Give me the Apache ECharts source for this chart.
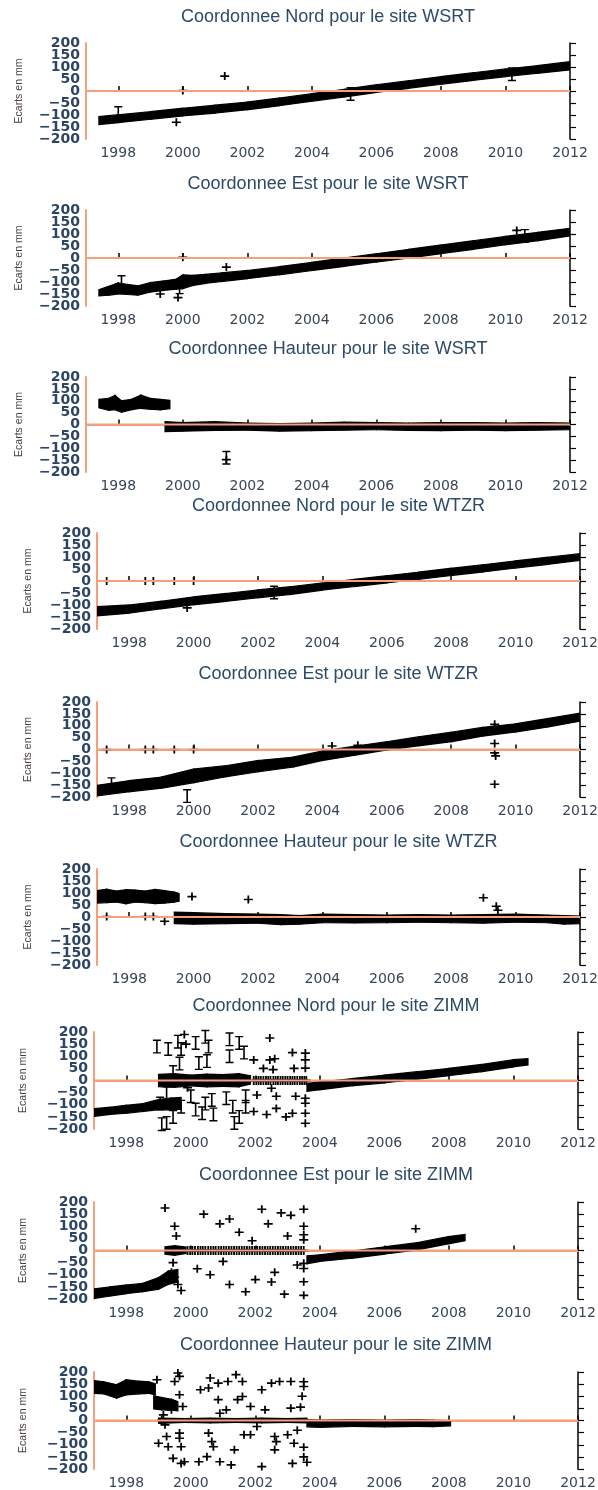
<!DOCTYPE html>
<html>
<head>
<meta charset="utf-8">
<script src="https://cdn.jsdelivr.net/npm/echarts@6/dist/echarts.min.js"></script>
<style>
html, body { margin: 0; padding: 0; background: #fff; }
#chart { width: 598px; height: 1490px; }
</style>
</head>
<body>
<div id="chart"></div>
<script>
// ticks
var YEAR_TICKS = [1998, 2000, 2002, 2004, 2006, 2008, 2010, 2012]
var Y_LABELS_EVEN = [-200, -100, 0, 100, 200]
var Y_LABELS_ODD = [-150, -50, 50, 150]
var ZERO_X = [1997, 2012]

// --- WSRT Nord
var wsrtNordX = [1997.4, 1998.0, 1999.0, 2000.0, 2001.0, 2002.0, 2003.0, 2004.0, 2005.0, 2006.0, 2007.0, 2008.0, 2009.0, 2010.0, 2011.0, 2012.0]
var wsrtNordLo = [-140, -132, -118, -104, -92, -78, -61, -43, -25, -6, 11, 28, 44, 60, 74, 88]
var wsrtNordHi = [-106, -99, -86, -72, -59, -46, -29, -11, 7, 26, 43, 60, 76, 92, 106, 122]
var wsrtNordPlusX = [1999.8, 2000.0, 2001.3]
var wsrtNordPlusY = [-130, 2, 62]
var wsrtNordBarX = [1998.0, 2005.2, 2010.2]
var wsrtNordBarY = [-92, -12, 70]

// --- WSRT Est
var wsrtEstX = [1997.4, 1997.7, 1998.0, 1998.3, 1998.6, 1999.0, 1999.4, 1999.8, 2000.0, 2000.3, 2000.7, 2001.2, 2002.0, 2003.0, 2004.0, 2005.0, 2006.0, 2007.0, 2008.0, 2009.0, 2010.0, 2011.0, 2012.0]
var wsrtEstLo = [-158, -155, -150, -152, -155, -142, -135, -130, -128, -115, -106, -98, -86, -70, -52, -35, -17, 0, 18, 36, 55, 72, 92]
var wsrtEstHi = [-132, -118, -104, -110, -116, -102, -96, -88, -70, -72, -68, -62, -52, -36, -18, 0, 18, 36, 54, 72, 90, 107, 124]
var wsrtEstPlusX = [1999.3, 1999.85, 2000.0, 2001.35, 2010.35]
var wsrtEstPlusY = [-150, -165, 3, -38, 115]
var wsrtEstBarX = [1998.1, 1999.9, 2010.6]
var wsrtEstBarY = [-100, -122, 92]

// --- WSRT Hauteur
var wsrtHautAX = [1997.4, 1997.7, 1997.9, 1998.1, 1998.4, 1998.7, 1999.0, 1999.3, 1999.6]
var wsrtHautALo = [70, 60, 62, 52, 62, 68, 64, 62, 66]
var wsrtHautAHi = [106, 110, 122, 100, 106, 124, 110, 106, 102]
var wsrtHautBX = [1999.45, 2000.0, 2001.0, 2002.0, 2003.0, 2004.0, 2005.0, 2006.0, 2007.0, 2008.0, 2009.0, 2010.0, 2011.0, 2012.0]
var wsrtHautBLo = [-30, -28, -25, -24, -28, -26, -24, -22, -25, -26, -24, -26, -24, -22]
var wsrtHautBHi = [12, 8, 12, 6, 4, 6, 10, 8, 6, 8, 8, 6, 8, 6]
var wsrtHautPlusX = [2001.35]
var wsrtHautPlusY = [-148]
var wsrtHautBarX = [2001.35]
var wsrtHautBarY = [-140]

// --- WTZR Nord
var wtzrNordX = [1997.0, 1998.0, 1999.0, 2000.0, 2001.0, 2002.0, 2003.0, 2004.0, 2005.0, 2006.0, 2007.0, 2008.0, 2009.0, 2010.0, 2011.0, 2012.0]
var wtzrNordLo = [-145, -134, -116, -99, -85, -70, -56, -38, -23, -8, 7, 23, 38, 54, 69, 86]
var wtzrNordHi = [-107, -100, -84, -66, -52, -37, -24, -8, 7, 22, 37, 53, 68, 84, 99, 114]
var wtzrNordPlusX = [1997.3, 1998.5, 1998.75, 1999.4, 2000.0, 1999.8]
var wtzrNordPlusY = [0, 0, 0, 0, 0, -112]
var wtzrNordBarX = [2002.5]
var wtzrNordBarY = [-48]

// --- WTZR Est
var wtzrEstX = [1997.0, 1998.0, 1999.0, 2000.0, 2001.0, 2002.0, 2003.1, 2004.0, 2005.0, 2006.0, 2007.0, 2008.0, 2009.0, 2010.0, 2011.0, 2012.0]
var wtzrEstLo = [-195, -178, -163, -140, -115, -94, -74, -46, -24, -2, 16, 33, 57, 74, 95, 119]
var wtzrEstHi = [-151, -131, -116, -82, -68, -46, -32, -6, 14, 33, 54, 73, 94, 108, 131, 153]
var wtzrEstPlusX = [1997.3, 1998.5, 1998.75, 1999.4, 2000.0, 2004.3, 2005.1, 2009.35, 2009.35, 2009.35, 2009.38, 2009.35]
var wtzrEstPlusY = [0, 0, 0, 0, 0, 15, 18, 106, 25, -14, -27, -146]
var wtzrEstBarX = [1999.8, 1997.45]
var wtzrEstBarY = [-196, -146]

// --- WTZR Hauteur
var wtzrHautAX = [1997.0, 1997.3, 1997.6, 1997.9, 1998.2, 1998.5, 1998.8, 1999.1, 1999.4, 1999.55]
var wtzrHautALo = [58, 60, 62, 55, 62, 60, 56, 58, 62, 66]
var wtzrHautAHi = [110, 116, 108, 114, 112, 108, 115, 110, 104, 98]
var wtzrHautBX = [1999.4, 2000.0, 2001.0, 2002.0, 2002.7, 2003.3, 2004.0, 2005.0, 2006.0, 2007.0, 2008.0, 2009.0, 2010.0, 2011.0, 2011.5, 2012.0]
var wtzrHautBLo = [-28, -30, -28, -26, -32, -30, -24, -25, -24, -22, -24, -26, -22, -24, -30, -28]
var wtzrHautBHi = [20, 18, 14, 12, 10, 6, 12, 10, 8, 10, 8, 10, 12, 8, 6, 4]
var wtzrHautPlusX = [1997.3, 1998.5, 1998.75, 1999.1, 1999.95, 2001.7, 2009.0, 2009.4, 2009.45]
var wtzrHautPlusY = [2, 2, 2, -18, 85, 73, 80, 45, 28]

// --- ZIMM Nord
var zimmNordAX = [1997.0, 1997.5, 1998.0, 1998.5, 1999.0, 1999.4, 1999.7]
var zimmNordALo = [-148, -140, -135, -128, -120, -122, -118]
var zimmNordAHi = [-116, -110, -102, -96, -78, -72, -70]
var zimmNordBX = [1999.0, 1999.5, 2000.0, 2000.5, 2001.0, 2001.5, 2001.85]
var zimmNordBLo = [-25, -28, -22, -26, -24, -26, -15]
var zimmNordBHi = [25, 28, 22, 26, 24, 28, 20]
var zimmNordCX = [2003.6, 2004.0, 2005.0, 2006.0, 2007.0, 2008.0, 2009.0, 2010.0, 2010.45]
var zimmNordCLo = [-45, -38, -22, -10, 5, 20, 36, 56, 64]
var zimmNordCHi = [-12, -6, 8, 22, 36, 50, 66, 86, 90]
var zimmNordRowX = [2001.95, 2002.03, 2002.1, 2002.17, 2002.25, 2002.33, 2002.4, 2002.47, 2002.56, 2002.63, 2002.7, 2002.78, 2002.85, 2002.93, 2003.0, 2003.08, 2003.15, 2003.22, 2003.3, 2003.38, 2003.45, 2003.52, 2003.58]
var zimmNordPlusX = [1999.8, 1999.85, 2001.95, 2002.25, 2002.45, 2002.55, 2002.45, 2003.15, 2003.2, 1999.9, 2001.95, 2002.05, 2002.35, 2002.5, 2002.65, 2002.65, 2002.95, 2003.15, 2003.25, 2003.55, 2003.55, 2003.55, 2003.55, 2003.55, 2003.55, 2003.55, 2002.6]
var zimmNordPlusY = [190, 150, 85, 50, 175, 45, 85, 115, 50, -30, -128, -60, -140, -32, -115, -65, -150, -135, -65, 113, 85, 51, -73, -94, -135, -176, 90]
var zimmNordBarX = [1998.95, 1999.1, 1999.3, 1999.6, 1999.7, 1999.65, 1999.45, 2000.15, 2000.25, 2000.45, 2000.55, 2000.5, 2001.2, 2001.2, 2001.5, 2001.65, 1999.05, 1999.25, 1999.25, 1999.45, 1999.7, 2000.0, 2000.15, 2000.35, 2000.45, 2000.7, 2000.65, 2001.1, 2001.3, 2001.35, 2001.5, 2001.7, 2001.7]
var zimmNordBarY = [140, -180, 130, 160, 130, 70, 35, 155, 72, 180, 140, 80, 170, 100, 155, 115, -95, -52, -175, -150, -108, -65, -120, -135, -95, -140, -80, -73, -108, -175, -150, -65, -108]

// --- ZIMM Est
var zimmEstAX = [1997.0, 1997.5, 1998.0, 1998.5, 1999.0, 1999.3, 1999.6]
var zimmEstALo = [-198, -188, -178, -170, -160, -140, -130]
var zimmEstAHi = [-158, -150, -142, -136, -112, -85, -78]
var zimmEstBX = [1999.2, 1999.5, 1999.85]
var zimmEstBLo = [-15, -20, -12]
var zimmEstBHi = [15, 20, 14]
var zimmEstCX = [2003.6, 2004.0, 2005.0, 2006.0, 2007.0, 2008.0, 2008.5]
var zimmEstCLo = [-55, -45, -32, -15, 2, 28, 40]
var zimmEstCHi = [-22, -18, -2, 15, 32, 58, 66]
var zimmEstRowX = [1999.9, 1999.98, 2000.05, 2000.13, 2000.22, 2000.3, 2000.37, 2000.45, 2000.54, 2000.62, 2000.7, 2000.77, 2000.86, 2000.94, 2001.02, 2001.1, 2001.18, 2001.26, 2001.34, 2001.42, 2001.5, 2001.58, 2001.66, 2001.74, 2001.82, 2001.9, 2001.98, 2002.06, 2002.14, 2002.22, 2002.3, 2002.38, 2002.46, 2002.54, 2002.62, 2002.7, 2002.78, 2002.86, 2002.94, 2003.02, 2003.1, 2003.18, 2003.26, 2003.34, 2003.42, 2003.5]
var zimmEstPlusX = [1999.2, 1999.5, 1999.55, 1999.45, 1999.5, 1999.6, 1999.7, 1999.4, 2000.2, 2000.4, 2000.6, 2000.9, 2001.0, 2001.2, 2001.2, 2001.5, 2001.7, 2001.9, 2002.0, 2002.2, 2002.4, 2002.6, 2002.8, 2002.9, 2003.1, 2003.3, 2003.0, 2002.5, 2003.5, 2003.5, 2003.5, 2003.5, 2003.5, 2003.5, 2003.5, 2003.5, 2006.97]
var zimmEstPlusY = [175, 100, 60, -50, -110, -140, -165, -90, -75, 150, -100, 110, -45, 130, -140, 75, -170, 40, -120, 170, 110, -90, 155, -180, 145, -60, 60, -130, 170, 100, 65, 44, -53, -74, -129, -185, 90]

// --- ZIMM Hauteur
var zimmHautAX = [1997.0, 1997.3, 1997.7, 1998.0, 1998.4, 1998.7, 1998.9]
var zimmHautALo = [112, 110, 92, 106, 110, 112, 105]
var zimmHautAHi = [165, 160, 148, 168, 162, 160, 152]
var zimmHautA2X = [1998.85, 1999.1, 1999.4, 1999.6]
var zimmHautA2Lo = [48, 44, 42, 40]
var zimmHautA2Hi = [102, 95, 88, 78]
var zimmHautBX = [1999.0, 1999.8, 2000.6, 2001.4, 2002.2, 2003.0, 2003.6]
var zimmHautBLo = [-12, -8, -10, -8, -10, -8, -10]
var zimmHautBHi = [10, 8, 10, 8, 10, 8, 10]
var zimmHautCX = [2003.6, 2004.0, 2005.0, 2006.0, 2007.0, 2007.5, 2008.05]
var zimmHautCLo = [-26, -28, -24, -26, -24, -25, -22]
var zimmHautCHi = [4, 2, 4, 2, 4, 2, 0]
var zimmHautPlusX = [1998.95, 1999.0, 1999.1, 1999.2, 1999.15, 1999.25, 1999.3, 1999.4, 1999.45, 1999.5, 1999.6, 1999.65, 1999.65, 1999.7, 1999.65, 1999.75, 1999.7, 1999.8, 1999.65, 2000.25, 2000.3, 2000.5, 2000.55, 2000.6, 2000.65, 2000.55, 2000.7, 2000.85, 2000.85, 2000.9, 2000.9, 2001.15, 2001.1, 2001.25, 2001.35, 2001.4, 2001.45, 2001.6, 2001.65, 2001.6, 2001.85, 2001.85, 2002.05, 2002.2, 2002.2, 2002.3, 2002.5, 2002.6, 2002.6, 2002.65, 2002.75, 2003.0, 2003.1, 2003.1, 2003.15, 2003.2, 2003.3, 2003.5, 2003.5, 2003.45, 2003.5, 2003.5, 2003.6, 2003.4]
var zimmHautPlusY = [168, -94, 3, -18, 23, -66, -108, 44, -156, 161, 196, 182, 106, -108, -52, 58, -177, -170, -73, -170, 127, -149, 134, 175, -87, -52, -108, 154, 86, -170, 30, 161, 44, -183, -121, 189, 86, 161, -59, 99, 58, -59, -25, 127, -190, 44, 154, -66, -121, -87, 161, -59, 161, 51, -177, -94, -40, 160, 140, 100, -110, -150, -172, 55]

var SALMON = '#f4a07f'
var PLUS = 'path://M0,4H4V0H6V4H10V6H6V10H4V6H0Z'
var IBAR = 'path://M0,0H10V2H6V18H10V20H0V18H4V2H0Z'

var panels = [
  { title: 'Coordonnee Nord pour le site WSRT', left: 86, top: 43, width: 484, height: 96, titleY: 18, nameGap: 61,
    bands: [[wsrtNordX, wsrtNordLo, wsrtNordHi]], plus: [wsrtNordPlusX, wsrtNordPlusY], bars: [wsrtNordBarX, wsrtNordBarY], row: [] },
  { title: 'Coordonnee Est pour le site WSRT', left: 86, top: 210, width: 484, height: 96, titleY: 185, nameGap: 61,
    bands: [[wsrtEstX, wsrtEstLo, wsrtEstHi]], plus: [wsrtEstPlusX, wsrtEstPlusY], bars: [wsrtEstBarX, wsrtEstBarY], row: [] },
  { title: 'Coordonnee Hauteur pour le site WSRT', left: 86, top: 377, width: 484, height: 95, titleY: 350, nameGap: 61,
    bands: [[wsrtHautAX, wsrtHautALo, wsrtHautAHi], [wsrtHautBX, wsrtHautBLo, wsrtHautBHi]], plus: [wsrtHautPlusX, wsrtHautPlusY], bars: [wsrtHautBarX, wsrtHautBarY], row: [] },
  { title: 'Coordonnee Nord pour le site WTZR', left: 97, top: 533, width: 483, height: 96, titleY: 507, nameGap: 63,
    bands: [[wtzrNordX, wtzrNordLo, wtzrNordHi]], plus: [wtzrNordPlusX, wtzrNordPlusY], bars: [wtzrNordBarX, wtzrNordBarY], row: [] },
  { title: 'Coordonnee Est pour le site WTZR', left: 97, top: 702, width: 483, height: 95, titleY: 675, nameGap: 63,
    bands: [[wtzrEstX, wtzrEstLo, wtzrEstHi]], plus: [wtzrEstPlusX, wtzrEstPlusY], bars: [wtzrEstBarX, wtzrEstBarY], row: [] },
  { title: 'Coordonnee Hauteur pour le site WTZR', left: 97, top: 869, width: 483, height: 96, titleY: 843, nameGap: 63,
    bands: [[wtzrHautAX, wtzrHautALo, wtzrHautAHi], [wtzrHautBX, wtzrHautBLo, wtzrHautBHi]], plus: [wtzrHautPlusX, wtzrHautPlusY], bars: [[], []], row: [] },
  { title: 'Coordonnee Nord pour le site ZIMM', left: 94, top: 1032, width: 484, height: 97, titleY: 1007, nameGap: 65,
    bands: [[zimmNordAX, zimmNordALo, zimmNordAHi], [zimmNordBX, zimmNordBLo, zimmNordBHi], [zimmNordCX, zimmNordCLo, zimmNordCHi]],
    plus: [zimmNordPlusX, zimmNordPlusY], bars: [zimmNordBarX, zimmNordBarY], row: zimmNordRowX },
  { title: 'Coordonnee Est pour le site ZIMM', left: 94, top: 1202, width: 484, height: 97, titleY: 1176, nameGap: 65,
    bands: [[zimmEstAX, zimmEstALo, zimmEstAHi], [zimmEstBX, zimmEstBLo, zimmEstBHi], [zimmEstCX, zimmEstCLo, zimmEstCHi]],
    plus: [zimmEstPlusX, zimmEstPlusY], bars: [[], []], row: zimmEstRowX },
  { title: 'Coordonnee Hauteur pour le site ZIMM', left: 94, top: 1372, width: 484, height: 97, titleY: 1346, nameGap: 65,
    bands: [[zimmHautAX, zimmHautALo, zimmHautAHi], [zimmHautA2X, zimmHautA2Lo, zimmHautA2Hi], [zimmHautBX, zimmHautBLo, zimmHautBHi], [zimmHautCX, zimmHautCLo, zimmHautCHi]],
    plus: [zimmHautPlusX, zimmHautPlusY], bars: [[], []], row: [] }
]

function bandItem (params, api) {
  var p = [
    api.coord([api.value(0), api.value(1)]),
    api.coord([api.value(0), api.value(2)]),
    api.coord([api.value(3), api.value(5)]),
    api.coord([api.value(3), api.value(4)])
  ]
  return { type: 'polygon', shape: { points: p }, style: { fill: '#000', stroke: '#000', lineWidth: 1.2 } }
}

function pairs (xs, ys) {
  return xs.map(function (x, k) { return [x, ys[k]] })
}

function yLabel (vals) {
  return {
    customValues: vals, margin: 6, color: '#2c4564', fontFamily: 'DejaVu Sans', fontSize: 14, fontWeight: 'bold',
    formatter: function (v) { return v < 0 ? '\u2212' + Math.abs(v) : String(v) }
  }
}

var option = { animation: false, backgroundColor: '#fff', title: [], grid: [], xAxis: [], yAxis: [], series: [] }

panels.forEach(function (p, i) {
  option.title.push({
    text: p.title, left: p.left + p.width / 2, top: p.titleY - 10, textAlign: 'center', padding: 0,
    textStyle: { fontFamily: 'Liberation Sans', fontSize: 18, fontWeight: 'normal', color: '#2d4a68' }
  })
  option.grid.push({ left: p.left, top: p.top, width: p.width, height: p.height, outerBoundsMode: 'none' })
  option.xAxis.push({
    gridIndex: i, type: 'value', min: 1997, max: 2012, position: 'bottom',
    axisLine: { show: true, lineStyle: { color: SALMON, width: 2 } },
    axisTick: { show: false }, splitLine: { show: false },
    axisLabel: {
      customValues: YEAR_TICKS, margin: 7, color: '#374658', fontFamily: 'DejaVu Sans', fontSize: 14,
      formatter: function (v) { return String(v) }
    }
  })
  option.xAxis.push({
    gridIndex: i, type: 'value', min: 1997, max: 2012, position: 'top',
    axisLine: { show: true, lineStyle: { color: SALMON, width: 2 } },
    axisTick: { show: true, customValues: YEAR_TICKS, length: 5, lineStyle: { color: '#000', width: 1.5 } },
    splitLine: { show: false }, axisLabel: { show: false }
  })
  // left axis: line, even labels and name
  option.yAxis.push({
    gridIndex: i, type: 'value', min: -200, max: 200, interval: 50, position: 'left',
    axisLine: { show: true, lineStyle: { color: SALMON, width: 2 } },
    axisTick: { show: false }, splitLine: { show: false },
    axisLabel: yLabel(Y_LABELS_EVEN),
    name: 'Ecarts en mm', nameLocation: 'middle', nameGap: p.nameGap,
    nameTextStyle: { fontFamily: 'Liberation Sans', fontSize: 10.5, color: '#4a3f3f' }
  })
  // second left axis, same place: odd labels only
  option.yAxis.push({
    gridIndex: i, type: 'value', min: -200, max: 200, interval: 50, position: 'left', offset: 0,
    axisLine: { show: false }, axisTick: { show: false }, splitLine: { show: false },
    axisLabel: yLabel(Y_LABELS_ODD)
  })
  option.yAxis.push({
    gridIndex: i, type: 'value', min: -200, max: 200, interval: 50, position: 'right',
    axisLine: { show: true, lineStyle: { color: '#000', width: 1.5 } },
    axisTick: { show: true, length: 6, lineStyle: { color: '#000', width: 1.2 } },
    splitLine: { show: false }, axisLabel: { show: false }
  })
  var xi = 2 * i
  var yi = 3 * i
  p.bands.forEach(function (b) {
    var xs = b[0], lo = b[1], hi = b[2]
    option.series.push({
      type: 'custom', xAxisIndex: xi, yAxisIndex: yi, silent: true, clip: true, z: 2,
      renderItem: bandItem, encode: { x: [0, 3], y: [1, 2, 4, 5] },
      data: xs.slice(0, -1).map(function (x, k) { return [x, lo[k], hi[k], xs[k + 1], lo[k + 1], hi[k + 1]] })
    })
  })
  if (p.row.length) {
    option.series.push({
      type: 'scatter', xAxisIndex: xi, yAxisIndex: yi, silent: true, z: 3,
      symbol: PLUS, symbolSize: [9, 9], itemStyle: { color: '#000', opacity: 1 },
      data: p.row.map(function (x) { return [x, 0] })
    })
  }
  option.series.push({
    type: 'scatter', xAxisIndex: xi, yAxisIndex: yi, silent: true, z: 3, clip: true,
    symbol: PLUS, symbolSize: [9, 8], itemStyle: { color: '#000', opacity: 1 },
    data: pairs(p.plus[0], p.plus[1])
  })
  option.series.push({
    type: 'scatter', xAxisIndex: xi, yAxisIndex: yi, silent: true, z: 3, clip: true,
    symbol: IBAR, symbolSize: [8, 14], itemStyle: { color: '#000', opacity: 1 },
    data: pairs(p.bars[0], p.bars[1])
  })
  option.series.push({
    type: 'line', xAxisIndex: xi, yAxisIndex: yi, silent: true, z: 5,
    symbol: 'none', lineStyle: { color: SALMON, width: 2 },
    data: ZERO_X.map(function (x) { return [x, 0] })
  })
})

var chart = echarts.init(document.getElementById('chart'), null, { renderer: 'canvas' })
chart.setOption(option)
</script>
</body>
</html>
